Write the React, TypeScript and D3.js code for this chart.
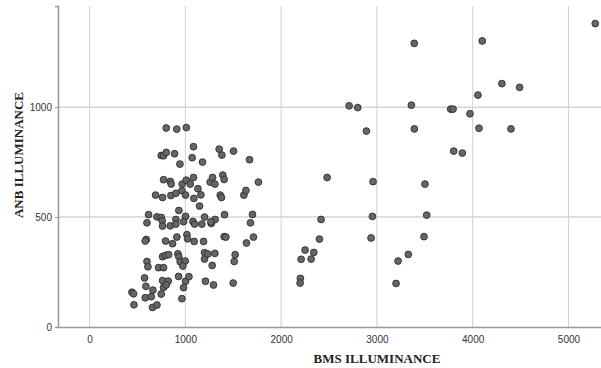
import React, { useEffect, useRef } from 'react';
import * as d3 from 'd3';

// BMS illuminance (x) and ANB illuminance (y)
const bms = [
  800, 910, 1010, 1085, 1353, 1503, 748, 772, 800, 887, 1071, 1179, 1381, 1670, 943,
  772, 842, 852, 967, 1009, 1051, 1085, 1259, 1284, 1308, 1391, 1405, 1763,
  689, 762, 849, 901, 964, 1002, 1089, 1131, 1162, 1364, 1377, 1611, 1632,
  1148, 932,
  616, 599, 703, 748, 758, 762, 842, 901, 901, 1002, 981, 1079, 1096, 1172, 1200, 1270, 1311, 1266, 1409, 1701, 1680,
  592, 581, 793, 866, 911, 1016, 1023, 1092, 1190, 1405, 1423, 1638, 1711,
  762, 793, 825, 922, 932, 946, 998, 974, 1200, 1200, 1235, 1308, 1280, 1520, 1510,
  599, 609, 720, 772,
  574, 588, 762, 821, 772, 800, 929, 1002, 1037, 981, 1210, 1294, 1499,
  442, 459, 661, 748, 581, 644, 657, 703, 463, 964,
  5280, 3390, 4100, 4305, 4490, 4055, 2710, 2800, 3360, 3770, 3795, 3972, 2890, 3391, 4066, 4400, 3802, 3892,
  2480, 2960, 3502,
  2417, 2953, 3520, 2400, 2939, 3492, 2250, 2341, 2209, 2313, 3328, 3221, 2201, 2198, 3200
];
const anb = [
  905, 900, 907, 820, 809, 800, 780, 779, 794, 788, 770, 750, 782, 761, 741,
  670, 662, 650, 650, 668, 650, 680, 659, 680, 650, 691, 671, 659,
  600, 589, 598, 608, 620, 600, 585, 629, 601, 600, 589, 600, 621,
  550, 530,
  511, 474, 501, 498, 483, 459, 460, 489, 468, 503, 479, 480, 468, 468, 500, 471, 489, 479, 511, 512, 474,
  398, 391, 391, 379, 409, 420, 401, 389, 389, 411, 409, 382, 409,
  320, 326, 329, 333, 320, 297, 300, 277, 338, 309, 332, 335, 280, 329, 298,
  298, 274, 270, 270,
  223, 185, 211, 209, 180, 191, 230, 208, 229, 179, 208, 191, 200,
  158, 151, 168, 150, 133, 138, 89, 100, 101, 129,
  1380, 1290, 1301, 1107, 1090, 1055, 1006, 998, 1009, 991, 991, 970, 891, 901, 904, 901, 800, 791,
  680, 661, 650,
  489, 503, 509, 400, 405, 411, 350, 339, 308, 309, 330, 300, 221, 200, 198
];

const xTicks = [0, 1000, 2000, 3000, 4000, 5000];
const yTicks = [0, 500, 1000];

export default function App() {
  const ref = useRef<SVGSVGElement>(null);

  useEffect(() => {
    const left = 58, right = 601, top = 6, bottom = 327;

    const svg = d3.select(ref.current);
    svg.selectAll('*').remove();

    const x = d3.scaleLinear().domain([-330, 5340]).range([left, right]);
    const y = d3.scaleLinear().domain([0, 1460]).range([bottom, top]);

    // grid
    svg.append('g')
      .selectAll('line')
      .data(xTicks)
      .enter().append('line')
      .attr('x1', d => x(d)).attr('x2', d => x(d))
      .attr('y1', top).attr('y2', bottom)
      .attr('stroke', '#d0d0d0')
      .attr('stroke-width', 1);

    svg.append('g')
      .selectAll('line')
      .data(yTicks.filter(d => d > 0))
      .enter().append('line')
      .attr('x1', left).attr('x2', right)
      .attr('y1', d => y(d)).attr('y2', d => y(d))
      .attr('stroke', '#d4d4d4')
      .attr('stroke-width', 1.5);

    // axes
    const xAxis = svg.append('g')
      .attr('transform', `translate(0,${bottom})`)
      .call(d3.axisBottom(x).tickValues(xTicks).tickSize(0).tickPadding(9).tickFormat(d3.format('d')));
    const yAxis = svg.append('g')
      .attr('transform', `translate(${left},0)`)
      .call(d3.axisLeft(y).tickValues(yTicks).tickSize(3).tickPadding(3).tickFormat(d3.format('d')));

    [xAxis, yAxis].forEach(a => {
      a.select('.domain').attr('stroke', '#999').attr('stroke-width', 1.5);
      a.selectAll('.tick line').attr('stroke', '#999');
      a.selectAll('.tick text')
        .attr('fill', '#333')
        .style('font-family', '"Liberation Sans Narrow", "Arial Narrow", "Liberation Sans", sans-serif')
        .style('font-size', '10px');
    });

    // points
    svg.append('g')
      .selectAll('circle')
      .data(bms.map((b, i) => [b, anb[i]]))
      .enter().append('circle')
      .attr('cx', d => x(d[0]))
      .attr('cy', d => y(d[1]))
      .attr('r', 3.4)
      .attr('fill', '#666666')
      .attr('stroke', '#2e2e2e')
      .attr('stroke-width', 0.9);

    // titles
    svg.append('text')
      .attr('x', 377).attr('y', 363)
      .attr('text-anchor', 'middle')
      .style('font-family', '"Liberation Serif", "Times New Roman", serif')
      .style('font-weight', 'bold')
      .style('font-size', '13px')
      .attr('fill', '#222')
      .text('BMS ILLUMINANCE');

    svg.append('text')
      .attr('transform', 'translate(23,155) rotate(-90)')
      .attr('text-anchor', 'middle')
      .style('font-family', '"Liberation Serif", "Times New Roman", serif')
      .style('font-weight', 'bold')
      .style('font-size', '13px')
      .attr('fill', '#222')
      .text('ANB ILLUMINANCE');
  }, []);

  return (
    <svg
      ref={ref}
      width={601}
      height={368}
      style={{ position: 'absolute', left: 0, top: 0, background: '#fff' }}
    />
  );
}
